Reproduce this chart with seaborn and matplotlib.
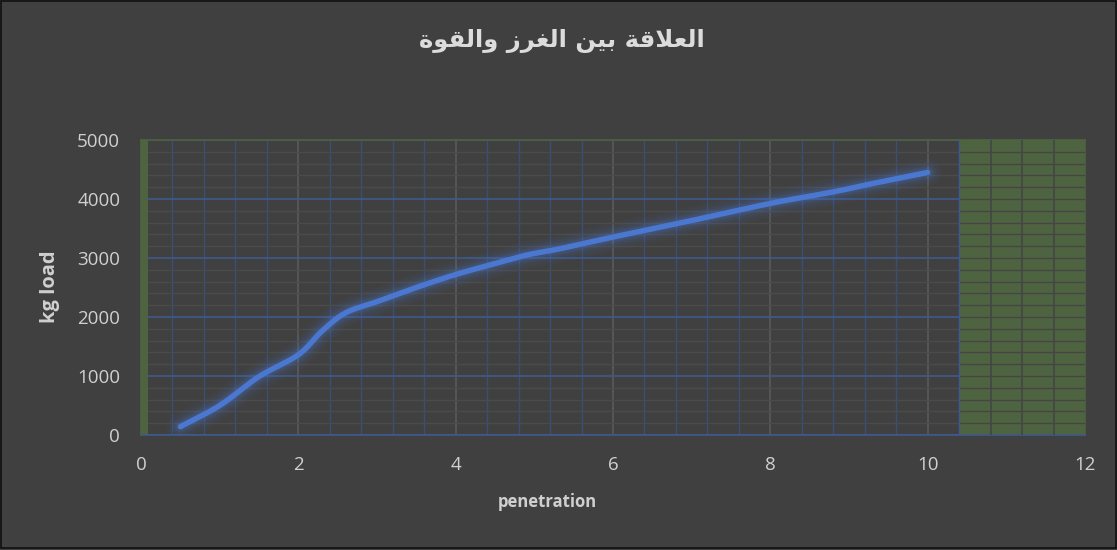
import numpy as np
import pandas as pd
import matplotlib
matplotlib.use("Agg")
import matplotlib.pyplot as plt
import seaborn as sns
from matplotlib.ticker import MultipleLocator
from matplotlib.patches import Rectangle

# Penetration test readings
penetration = [0.5, 1.0, 1.5, 2.0, 2.3, 2.6, 3.0, 3.5, 4.0, 4.5, 4.9, 5.3,
               6.0, 7.0, 8.0, 8.8, 9.2, 10.0]
load_kg = [140, 500, 990, 1360, 1760, 2070, 2260, 2500, 2720, 2905, 3050, 3150,
           3355, 3635, 3925, 4120, 4235, 4450]

x_ticks = [0, 2, 4, 6, 8, 10, 12]
y_ticks = [0, 1000, 2000, 3000, 4000, 5000]

title_text = "العلاقة بين الغرز والقوة"
x_label = "penetration"
y_label = "kg load"

BG = "#404040"
GREEN = "#4e6340"
LINE = "#4a78d0"
TXT = "#d0d0d0"


# --- Arabic contextual shaping (matplotlib draws glyphs without shaping) ---
FORMS = {
    "ا": (0xFE8D, 0xFE8E, None, None),
    "ب": (0xFE8F, 0xFE90, 0xFE91, 0xFE92),
    "ة": (0xFE93, 0xFE94, None, None),
    "ر": (0xFEAD, 0xFEAE, None, None),
    "ز": (0xFEAF, 0xFEB0, None, None),
    "ع": (0xFEC9, 0xFECA, 0xFECB, 0xFECC),
    "غ": (0xFECD, 0xFECE, 0xFECF, 0xFED0),
    "ق": (0xFED5, 0xFED6, 0xFED7, 0xFED8),
    "ل": (0xFEDD, 0xFEDE, 0xFEDF, 0xFEE0),
    "ن": (0xFEE5, 0xFEE6, 0xFEE7, 0xFEE8),
    "و": (0xFEED, 0xFEEE, None, None),
    "ي": (0xFEF1, 0xFEF2, 0xFEF3, 0xFEF4),
}


def dual(c):
    return c in FORMS and FORMS[c][2] is not None


def shape_arabic(text):
    chars = list(text)
    out = []
    i = 0
    n = len(chars)
    while i < n:
        c = chars[i]
        joins_prev = i > 0 and dual(chars[i - 1])
        if c == "ل" and i + 1 < n and chars[i + 1] == "ا":
            out.append(chr(0xFEFC if joins_prev else 0xFEFB))
            i += 2
            continue
        if c not in FORMS:
            out.append(c)
            i += 1
            continue
        iso, fin, ini, med = FORMS[c]
        joins_next = dual(c) and i + 1 < n and chars[i + 1] in FORMS
        if joins_prev and joins_next:
            out.append(chr(med))
        elif joins_prev:
            out.append(chr(fin))
        elif joins_next:
            out.append(chr(ini))
        else:
            out.append(chr(iso))
        i += 1
    return "".join(reversed(out))


# --- smooth curve through the readings (Catmull-Rom) ---
def smooth(xs, ys, steps=30):
    p = np.column_stack([xs, ys]).astype(float)
    p = np.vstack([2 * p[0] - p[1], p, 2 * p[-1] - p[-2]])
    t = np.linspace(0, 1, steps, endpoint=False)[:, None]
    segs = []
    for k in range(1, len(p) - 2):
        p0, p1, p2, p3 = p[k - 1], p[k], p[k + 1], p[k + 2]
        seg = 0.5 * ((2 * p1) + (-p0 + p2) * t
                     + (2 * p0 - 5 * p1 + 4 * p2 - p3) * t ** 2
                     + (-p0 + 3 * p1 - 3 * p2 + p3) * t ** 3)
        segs.append(seg)
    segs.append(p[-2][None, :])
    s = np.vstack(segs)
    return s[:, 0], s[:, 1]


sx, sy = smooth(penetration, load_kg)
curve = pd.DataFrame({"penetration": sx, "load": sy})

sns.set_theme(style="dark")
plt.rcParams["font.family"] = ["Open Sans", "DejaVu Sans"]

fig = plt.figure(figsize=(11.17, 5.5), dpi=100, facecolor=BG)
W, H = 1117, 550
ax = fig.add_axes([141 / W, 1 - 435 / H, (1085 - 141) / W, (435 - 140) / H])
ax.set_facecolor(BG)

ax.set_xlim(0, 12)
ax.set_ylim(0, 5000)
ax.set_xticks(x_ticks)
ax.set_yticks(y_ticks)
ax.xaxis.set_minor_locator(MultipleLocator(0.4))
ax.yaxis.set_minor_locator(MultipleLocator(200))

ax.grid(which="major", axis="y", color="#3e5a8c", lw=1.2, zorder=1)
ax.grid(which="minor", axis="y", color="#4b4b4b", lw=1.0, zorder=1)
ax.grid(which="major", axis="x", color="#5a5a5a", lw=1.2, zorder=1)
ax.grid(which="minor", axis="x", color="#394f78", lw=1.0, zorder=1)
ax.set_axisbelow(True)

# green bands; the right one carries its own dark cell lines
ax.axvspan(0, 0.09, color=GREEN, zorder=2, lw=0)
ax.axvspan(10.4, 12, color=GREEN, zorder=2, lw=0)
ax.hlines(np.arange(200, 5000, 200), 10.4, 12, color="#454545", lw=1.0, zorder=3)
ax.vlines(np.arange(10.8, 12.0, 0.4), 0, 5000, color="#454545", lw=1.2, zorder=3)
ax.axvline(10.4, color="#3e5a8c", lw=1.0, zorder=3)

for s in ax.spines.values():
    s.set_visible(True)
    s.set_color(GREEN)
    s.set_linewidth(1.2)
ax.spines["bottom"].set_color("#3e5a8c")

# soft glow under the curve
for w, a in [(20, 0.04), (16, 0.05), (12.5, 0.07), (9.5, 0.10), (7, 0.14)]:
    ax.plot(sx, sy, color=LINE, lw=w, alpha=a, solid_capstyle="round", zorder=4)
sns.lineplot(data=curve, x="penetration", y="load", sort=False, ax=ax,
             color=LINE, lw=3.9, zorder=5, solid_capstyle="round")

ax.tick_params(axis="both", which="both", length=0, labelsize=13.5,
               labelcolor=TXT, pad=15)
ax.set_xlabel("")
ax.set_ylabel("")

fig.text(547 / W, 1 - 502 / H, x_label, ha="center", va="center",
         fontsize=12, fontweight="bold", color=TXT)
fig.text(50 / W, 1 - 287 / H, y_label, ha="center", va="center", rotation=90,
         fontsize=14.5, fontweight="bold", color=TXT)
fig.text(562 / W, 1 - 41 / H, shape_arabic(title_text), ha="center", va="center",
         fontsize=17.5, fontweight="bold", color="#dcdcdc", family=["DejaVu Sans"])

fig.patches.append(Rectangle((0.5 / W, 2.5 / H), 1 - 1.5 / W, 1 - 3.5 / H,
                             transform=fig.transFigure, fill=False,
                             edgecolor="#111111", lw=1.2))

fig.savefig("out.png", dpi=100, facecolor=BG)
